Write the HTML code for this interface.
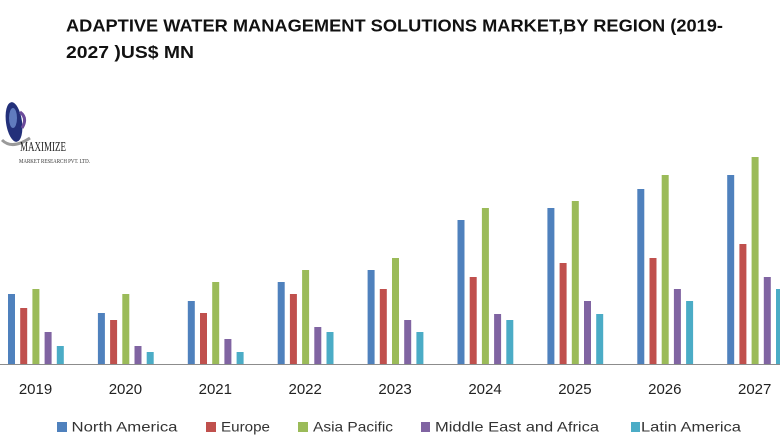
<!DOCTYPE html>
<html>
<head>
<meta charset="utf-8">
<style>
html,body{margin:0;padding:0;background:#fff;}
svg{display:block;}
</style>
</head>
<body>
<svg width="780" height="440" viewBox="0 0 780 440" xmlns="http://www.w3.org/2000/svg">
<rect width="780" height="440" fill="#fff"/>
<!-- Title -->
<g font-family="Liberation Sans, sans-serif" font-weight="bold" font-size="17.5" fill="#111">
<text x="66" y="31.5" textLength="657" lengthAdjust="spacingAndGlyphs">ADAPTIVE WATER MANAGEMENT SOLUTIONS MARKET,BY REGION (2019-</text>
<text x="66" y="58" textLength="128" lengthAdjust="spacingAndGlyphs">2027 )US$ MN</text>
</g>
<!-- Logo -->
<g>
<path d="M2 140 Q12 150 30 138" stroke="#9a9a9a" stroke-width="3" fill="none"/>
<ellipse cx="14" cy="122" rx="8" ry="20" fill="#23307a" transform="rotate(-8 14 122)"/>
<ellipse cx="13" cy="118" rx="4" ry="10" fill="#6f8fd0" opacity="0.8"/>
<path d="M20 112 Q28 118 22 128" stroke="#6b4a9a" stroke-width="3" fill="none"/>
<text x="20" y="151" font-family="Liberation Serif, serif" font-size="14" fill="#222" textLength="46" lengthAdjust="spacingAndGlyphs">MAXIMIZE</text>
<text x="19" y="163" font-family="Liberation Serif, serif" font-size="6" fill="#333" textLength="71" lengthAdjust="spacingAndGlyphs">MARKET RESEARCH PVT. LTD.</text>
</g>
<!-- Axis -->
<line x1="0" y1="364.5" x2="780" y2="364.5" stroke="#8c8c8c" stroke-width="1"/>
<!-- Bars -->
<g>
<!-- 2019 -->
<rect x="8" y="294" width="7" height="70" fill="#4F81BD"/>
<rect x="20.2" y="308" width="7" height="56" fill="#C0504D"/>
<rect x="32.4" y="289" width="7" height="75" fill="#9BBB59"/>
<rect x="44.6" y="332" width="7" height="32" fill="#8064A2"/>
<rect x="56.8" y="346" width="7" height="18" fill="#4BACC6"/>
<!-- 2020 -->
<rect x="97.9" y="313" width="7" height="51" fill="#4F81BD"/>
<rect x="110.1" y="320" width="7" height="44" fill="#C0504D"/>
<rect x="122.3" y="294" width="7" height="70" fill="#9BBB59"/>
<rect x="134.5" y="346" width="7" height="18" fill="#8064A2"/>
<rect x="146.7" y="352" width="7" height="12" fill="#4BACC6"/>
<!-- 2021 -->
<rect x="187.8" y="301" width="7" height="63" fill="#4F81BD"/>
<rect x="200" y="313" width="7" height="51" fill="#C0504D"/>
<rect x="212.2" y="282" width="7" height="82" fill="#9BBB59"/>
<rect x="224.4" y="339" width="7" height="25" fill="#8064A2"/>
<rect x="236.6" y="352" width="7" height="12" fill="#4BACC6"/>
<!-- 2022 -->
<rect x="277.7" y="282" width="7" height="82" fill="#4F81BD"/>
<rect x="289.9" y="294" width="7" height="70" fill="#C0504D"/>
<rect x="302.1" y="270" width="7" height="94" fill="#9BBB59"/>
<rect x="314.3" y="327" width="7" height="37" fill="#8064A2"/>
<rect x="326.5" y="332" width="7" height="32" fill="#4BACC6"/>
<!-- 2023 -->
<rect x="367.6" y="270" width="7" height="94" fill="#4F81BD"/>
<rect x="379.8" y="289" width="7" height="75" fill="#C0504D"/>
<rect x="392" y="258" width="7" height="106" fill="#9BBB59"/>
<rect x="404.2" y="320" width="7" height="44" fill="#8064A2"/>
<rect x="416.4" y="332" width="7" height="32" fill="#4BACC6"/>
<!-- 2024 -->
<rect x="457.5" y="220" width="7" height="144" fill="#4F81BD"/>
<rect x="469.7" y="277" width="7" height="87" fill="#C0504D"/>
<rect x="481.9" y="208" width="7" height="156" fill="#9BBB59"/>
<rect x="494.1" y="314" width="7" height="50" fill="#8064A2"/>
<rect x="506.3" y="320" width="7" height="44" fill="#4BACC6"/>
<!-- 2025 -->
<rect x="547.4" y="208" width="7" height="156" fill="#4F81BD"/>
<rect x="559.6" y="263" width="7" height="101" fill="#C0504D"/>
<rect x="571.8" y="201" width="7" height="163" fill="#9BBB59"/>
<rect x="584" y="301" width="7" height="63" fill="#8064A2"/>
<rect x="596.2" y="314" width="7" height="50" fill="#4BACC6"/>
<!-- 2026 -->
<rect x="637.3" y="189" width="7" height="175" fill="#4F81BD"/>
<rect x="649.5" y="258" width="7" height="106" fill="#C0504D"/>
<rect x="661.7" y="175" width="7" height="189" fill="#9BBB59"/>
<rect x="673.9" y="289" width="7" height="75" fill="#8064A2"/>
<rect x="686.1" y="301" width="7" height="63" fill="#4BACC6"/>
<!-- 2027 -->
<rect x="727.2" y="175" width="7" height="189" fill="#4F81BD"/>
<rect x="739.4" y="244" width="7" height="120" fill="#C0504D"/>
<rect x="751.6" y="157" width="7" height="207" fill="#9BBB59"/>
<rect x="763.8" y="277" width="7" height="87" fill="#8064A2"/>
<rect x="776" y="289" width="7" height="75" fill="#4BACC6"/>
</g>
<!-- Year labels -->
<g font-family="Liberation Sans, sans-serif" font-size="15" fill="#222" text-anchor="middle">
<text x="35.5" y="394">2019</text>
<text x="125.4" y="394">2020</text>
<text x="215.3" y="394">2021</text>
<text x="305.2" y="394">2022</text>
<text x="395.1" y="394">2023</text>
<text x="485" y="394">2024</text>
<text x="574.9" y="394">2025</text>
<text x="664.8" y="394">2026</text>
<text x="754.7" y="394">2027</text>
</g>
<!-- Legend -->
<g font-family="Liberation Sans, sans-serif" font-size="14" fill="#333">
<rect x="57" y="422" width="10" height="10" fill="#4F81BD"/>
<text x="71.5" y="431.7" textLength="106" lengthAdjust="spacingAndGlyphs">North America</text>
<rect x="206" y="422" width="10" height="10" fill="#C0504D"/>
<text x="221" y="431.7" textLength="49" lengthAdjust="spacingAndGlyphs">Europe</text>
<rect x="298" y="422" width="10" height="10" fill="#9BBB59"/>
<text x="313" y="431.7" textLength="80" lengthAdjust="spacingAndGlyphs">Asia Pacific</text>
<rect x="421" y="422" width="9" height="10" fill="#8064A2"/>
<text x="435" y="431.7" textLength="164" lengthAdjust="spacingAndGlyphs">Middle East and Africa</text>
<rect x="631" y="422" width="9" height="10" fill="#4BACC6"/>
<text x="641" y="431.7" textLength="100" lengthAdjust="spacingAndGlyphs">Latin America</text>
</g>
</svg>
</body>
</html>
